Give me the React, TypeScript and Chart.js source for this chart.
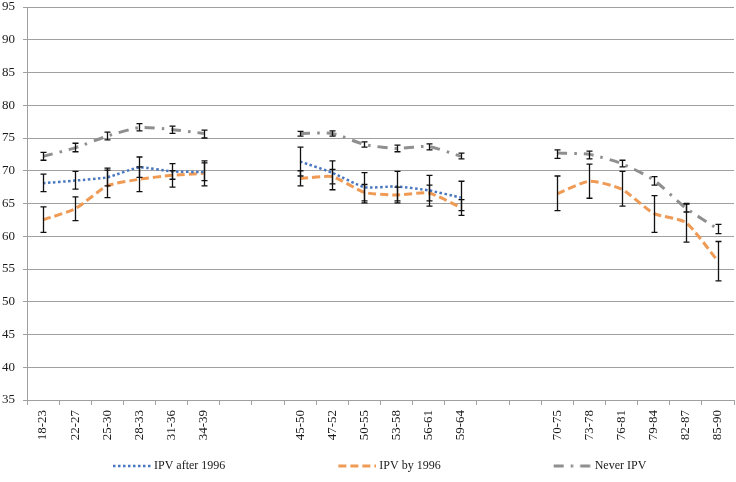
import React, { useEffect, useRef } from 'react';
import { Chart, registerables } from 'chart.js';

Chart.register(...registerables);

// ---- Data ----
const categories = [
  '18-23', '22-27', '25-30', '28-33', '31-36', '34-39', '', '',
  '45-50', '47-52', '50-55', '53-58', '56-61', '59-64', '', '',
  '70-75', '73-78', '76-81', '79-84', '82-87', '85-90',
];

const seriesNames = ['IPV after 1996', 'IPV by 1996', 'Never IPV'];

const afterMean = [68.1, 68.5, 69.0, 70.5, 69.9, 69.8, null, null, 71.4, 69.7, 67.5, 67.6, 67.0, 65.9, null, null, null, null, null, null, null, null];
const afterLo = [66.8, 67.2, 67.7, 69.0, 68.7, 68.5, null, null, 69.2, 68.0, 65.4, 65.4, 64.6, 63.9, null, null, null, null, null, null, null, null];
const afterHi = [69.5, 69.9, 70.4, 72.1, 71.1, 71.5, null, null, 73.6, 71.5, 69.7, 69.9, 69.3, 68.4, null, null, null, null, null, null, null, null];

const byMean = [62.5, 64.2, 67.7, 68.7, 69.3, 69.6, null, null, 68.8, 69.1, 66.7, 66.3, 66.6, 64.4, null, null, 66.5, 68.4, 67.2, 63.5, 62.1, 56.2];
const byLo = [60.6, 62.4, 65.9, 66.8, 67.5, 67.7, null, null, 67.7, 67.1, 65.1, 65.1, 65.4, 63.2, null, null, 63.9, 65.8, 64.6, 60.6, 59.1, 53.2];
const byHi = [64.5, 66.0, 70.1, 70.6, 70.0, 71.2, null, null, 70.0, 70.2, 67.9, 67.5, 67.8, 65.6, null, null, 69.2, 71.0, 69.9, 66.2, 64.9, 59.2];

const neverMean = [72.2, 73.5, 75.3, 76.6, 76.3, 75.7, null, null, 75.7, 75.7, 74.0, 73.4, 73.7, 72.2, null, null, 72.7, 72.5, 71.1, 68.6, 64.3, 61.1];
const neverLo = [71.6, 72.9, 74.7, 76.1, 75.7, 75.0, null, null, 75.3, 75.3, 73.6, 72.9, 73.2, 71.8, null, null, 71.9, 71.8, 70.6, 67.8, 63.7, 60.4];
const neverHi = [72.8, 74.2, 75.9, 77.2, 76.8, 76.2, null, null, 76.0, 76.1, 74.4, 73.9, 74.1, 72.7, null, null, 73.2, 73.0, 71.6, 69.1, 65.0, 61.8];

const yMin = 35;
const yMax = 95;
const yStep = 5;

// ---- Styles ----
const FONT = "'Liberation Serif', 'Times New Roman', serif";
const TEXT = '#1a1a1a';
const GRID = '#a0a0a0';

const styles = [
  { color: '#4a78c0', dash: [2.5, 2.5], width: 2.5 },
  { color: '#ef9a55', dash: [8, 4], width: 3 },
  { color: '#8f8f8f', dash: [10, 7, 2.5, 7], width: 3 },
];

const SWATCH_W = 128;
const LINE_LEN = 38;

function makeSwatch(color: string, dash: number[], width: number) {
  const c = document.createElement('canvas');
  c.width = SWATCH_W + 6;
  c.height = 8;
  const g = c.getContext('2d')!;
  g.strokeStyle = color;
  g.lineWidth = width;
  g.setLineDash(dash);
  g.beginPath();
  g.moveTo(c.width - LINE_LEN, 4);
  g.lineTo(c.width, 4);
  g.stroke();
  return c;
}

const errorSets = [
  { lo: afterLo, hi: afterHi },
  { lo: byLo, hi: byHi },
  { lo: neverLo, hi: neverHi },
];

const errorBarPlugin = {
  id: 'errorBars',
  afterDatasetsDraw(chart: any) {
    const { ctx, scales } = chart;
    const xs = scales.x;
    const ys = scales.y;
    ctx.save();
    ctx.strokeStyle = '#111111';
    ctx.lineWidth = 1.3;
    ctx.setLineDash([]);
    errorSets.forEach(({ lo, hi }) => {
      lo.forEach((l, i) => {
        const h = hi[i];
        if (l == null || h == null) return;
        const px = Math.round(xs.getPixelForValue(i)) + 0.5;
        const y1 = ys.getPixelForValue(l);
        const y2 = ys.getPixelForValue(h);
        ctx.beginPath();
        ctx.moveTo(px, y1);
        ctx.lineTo(px, y2);
        ctx.moveTo(px - 3, y1);
        ctx.lineTo(px + 3, y1);
        ctx.moveTo(px - 3, y2);
        ctx.lineTo(px + 3, y2);
        ctx.stroke();
      });
    });
    ctx.restore();
  },
};

export default function App() {
  const ref = useRef<HTMLCanvasElement>(null);

  useEffect(() => {
    if (!ref.current) return;
    const swatches = styles.map((s) => makeSwatch(s.color, s.dash, s.width));
    const means = [afterMean, byMean, neverMean];
    const chart = new Chart(ref.current, {
      type: 'line',
      data: {
        labels: categories,
        datasets: means.map((d, i) => ({
          label: seriesNames[i],
          data: d,
          borderColor: styles[i].color,
          backgroundColor: styles[i].color,
          borderDash: styles[i].dash,
          borderWidth: styles[i].width,
          pointRadius: 0,
          pointHoverRadius: 0,
          tension: 0.2,
          spanGaps: false,
          fill: false,
        })),
      },
      options: {
        responsive: false,
        animation: false,
        devicePixelRatio: 1,
        layout: { padding: { left: 0, right: 2, top: 0, bottom: 0 } },
        plugins: {
          tooltip: { enabled: false },
          legend: {
            position: 'bottom',
            align: 'start',
            labels: {
              usePointStyle: true,
              pointStyleWidth: SWATCH_W,
              padding: 20,
              color: TEXT,
              font: { family: FONT, size: 12 },
              generateLabels: (c: any) => {
                const items = (Chart as any).defaults.plugins.legend.labels.generateLabels(c);
                items.forEach((it: any, i: number) => {
                  it.pointStyle = swatches[i];
                });
                return items;
              },
            },
          },
        },
        scales: {
          x: {
            type: 'category',
            offset: true,
            grid: {
              offset: true,
              drawOnChartArea: false,
              drawTicks: true,
              tickLength: 5,
              color: GRID,
            },
            border: { color: GRID },
            ticks: {
              autoSkip: false,
              maxRotation: 90,
              minRotation: 90,
              padding: 5,
              color: TEXT,
              font: { family: FONT, size: 13 },
            },
            afterFit: (s: any) => {
              s.height = 40;
              s.paddingRight = 0;
              s.paddingLeft = 0;
            },
          },
          y: {
            min: yMin,
            max: yMax,
            grid: { color: GRID, tickLength: 4 },
            border: { color: GRID },
            ticks: {
              stepSize: yStep,
              padding: 8,
              color: TEXT,
              font: { family: FONT, size: 13 },
            },
            afterFit: (s: any) => {
              s.width = 27;
              s.paddingTop = 7;
            },
          },
        },
      },
      plugins: [errorBarPlugin],
    } as any);
    return () => chart.destroy();
  }, []);

  return (
    <div style={{ position: 'absolute', left: 0, top: 0, width: 736, height: 482, background: '#fff' }}>
      <canvas ref={ref} width={736} height={482} style={{ display: 'block' }} />
    </div>
  );
}
